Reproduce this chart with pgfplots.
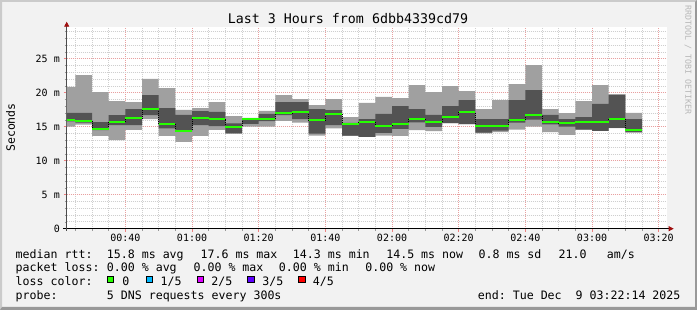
\documentclass[border=0pt]{standalone}
\usepackage{pgfplots}
\pgfplotsset{compat=1.18}
\usepackage{pgfplotstable}
\usepgfplotslibrary{fillbetween}
\usetikzlibrary{arrows.meta}
\usepackage{fontspec}
\setmainfont{DejaVu Sans Mono}
\definecolor{bgc}{HTML}{F2F2F2}
\definecolor{shadea}{HTML}{CBCBCB}
\definecolor{shadeb}{HTML}{999999}
\definecolor{smokelight}{HTML}{A0A0A0}
\definecolor{smokedark}{HTML}{535353}
\definecolor{medgreen}{HTML}{26FF00}
\definecolor{mgrid}{HTML}{E8A0A0}
\definecolor{sgrid}{HTML}{CFCFCF}
\definecolor{arrowred}{HTML}{A01010}
\definecolor{lc1}{HTML}{00B8FF}
\definecolor{lc2}{HTML}{DD00FF}
\definecolor{lc3}{HTML}{5E00FF}
\definecolor{lc4}{HTML}{FF0000}
\definecolor{wm}{HTML}{B8B8B8}

\pgfdeclarelayer{bgl}
\pgfplotsset{
  layers/mylayers/.define layer set={bgl,axis background,axis grid,axis ticks,axis lines,axis tick labels,pre main,main,axis descriptions,axis foreground}{
    grid style={/pgfplots/on layer=axis grid},
    tick style={/pgfplots/on layer=axis ticks},
    axis line style={/pgfplots/on layer=axis lines},
    label style={/pgfplots/on layer=axis descriptions},
    legend style={/pgfplots/on layer=axis descriptions},
    title style={/pgfplots/on layer=axis descriptions},
    ticklabel style={/pgfplots/on layer=axis tick labels},
    axis background@ style={/pgfplots/on layer=axis background},
  },
}

\pgfplotstableread{
t min p2 med p4 max
22.4 15.0 15.8 15.95 17.05 20.85
25 15.3 15.6 15.9 17.05 22.6
30 13.65 14.5 14.7 15.69 20.08
35 13.04 15.25 15.64 16.72 18.78
40 14.52 15.25 16.25 17.6 18.63
45 16.1 16.7 17.62 19.66 22.03
50 13.65 14.76 15.43 17.75 20.69
55 12.77 14.25 14.4 16.75 17.46
60 13.65 15.25 16.28 17.3 17.75
65 14.55 15.1 16.15 17.18 18.63
70 13.97 14.03 15.0 15.49 16.57
75 15.0 15.4 16.08 16.27 16.3
80 15.0 15.82 16.1 16.9 17.32
85 15.86 16.72 16.98 18.63 19.66
90 15.6 16.13 17.12 18.63 19.07
95 13.68 13.97 15.95 17.6 18.19
100 14.76 15.25 16.89 17.45 19.07
105 13.65 13.68 15.4 15.55 16.42
110 13.5 13.52 15.62 16.13 18.49
115 13.68 14.1 15.05 16.87 19.37
120 13.65 14.68 15.36 18.04 19.22
125 14.5 15.62 16.1 17.6 21.13
130 14.36 14.97 15.64 16.74 20.1
135 15.5 15.55 16.5 18.04 20.98
140 15.35 15.4 17.15 18.92 20.25
145 14.02 14.12 15.05 16.1 17.58
150 14.2 14.42 15.07 16.1 18.92
155 14.58 15.6 16.0 18.92 21.27
160 15.0 16.03 16.72 20.39 24.07
165 14.2 15.35 15.64 16.74 17.6
170 13.8 15.0 15.5 16.13 17.0
175 14.56 14.57 15.62 16.4 18.78
180 14.38 14.4 15.7 18.34 21.13
185 14.8 14.82 16.15 19.66 19.8
190 14.12 14.2 14.52 16.13 17.04
195 14.12 14.2 14.52 16.13 17.04
}\smoke

\begin{document}
\frenchspacing
\begin{tikzpicture}
\begin{axis}[
  set layers=mylayers,
  at={(66.7pt,81.3pt)}, anchor=south west,
  scale only axis, width=600pt, height=201.4pt,
  xmin=22.4, xmax=202.4, ymin=0, ymax=29.62,
  axis background/.style={fill=white},
  axis lines*=left,
  x axis line style={black, line width=0.8pt, shorten <=-3.4pt, shorten >=-7pt,
     -{Triangle[length=5pt,width=5pt,color=arrowred]}},
  y axis line style={black!70, line width=0.8pt, shorten <=-2pt, shorten >=-5.6pt,
     -{Triangle[length=5pt,width=5pt,color=arrowred]}},
  xtick={40,60,...,200},
  xticklabels={00:40,01:00,01:20,01:40,02:00,02:20,02:40,03:00,03:20},
  minor xtick={25,30,35,45,50,55,65,70,75,85,90,95,105,110,115,125,130,135,145,150,155,165,170,175,185,190,195},
  ytick={0,5,10,15,20,25},
  yticklabels={0,5 m,10 m,15 m,20 m,25 m},
  minor ytick={1,2,3,4,6,7,8,9,11,12,13,14,16,17,18,19,21,22,23,24,26,27,28,29},
  grid=both,
  major grid style={mgrid, line width=0.8pt, dash pattern=on 1pt off 1pt},
  minor grid style={sgrid, line width=0.8pt, dash pattern=on 1pt off 1pt},
  tick align=outside, major tick length=3pt, minor tick length=2pt,
  major tick style={mgrid!80!red, line width=0.8pt},
  minor tick style={black!40, line width=0.6pt},
  tick label style={font=\fontsize{10}{12}\selectfont, text=black},
  xticklabel style={anchor=north, inner sep=0pt, yshift=-2.3pt},
  yticklabel style={anchor=east, inner sep=0pt, xshift=-3.7pt},
  clip=true,
]
\addplot[draw=none, name path=pmin, const plot mark left, forget plot] table[x=t,y=min]{\smoke};
\addplot[draw=none, name path=ptwo, const plot mark left, forget plot] table[x=t,y=p2]{\smoke};
\addplot[draw=none, name path=pfour, const plot mark left, forget plot] table[x=t,y=p4]{\smoke};
\addplot[draw=none, name path=pmax, const plot mark left, forget plot] table[x=t,y=max]{\smoke};
\addplot[fill=smokelight, draw=none] fill between[of=pmax and pmin];
\addplot[fill=smokedark, draw=none] fill between[of=pfour and ptwo];
\addplot[const plot mark left, black, line width=0.6pt, dash pattern=on 1pt off 1pt] table[x=t,y=med]{\smoke};
\addplot[jump mark left, medgreen, line width=2pt] table[x=t,y=med]{\smoke};
\end{axis}

\begin{pgfonlayer}{bgl}
\fill[bgc] (0pt,0pt) rectangle (697pt,310pt);
\fill[shadea] (0pt,0pt) -- (0pt,310pt) -- (697pt,310pt) -- (695pt,308pt) -- (2pt,308pt) -- (2pt,3pt) -- cycle;
\fill[shadeb] (0pt,0pt) -- (697pt,0pt) -- (697pt,310pt) -- (695pt,308pt) -- (695pt,3pt) -- (2pt,3pt) -- cycle;
\end{pgfonlayer}

\node[anchor=base, font=\fontsize{13.3}{15}\selectfont] at (348pt,286pt) {Last 3 Hours from 6dbb4339cd79};
\node[rotate=90, font=\fontsize{11.5}{13}\selectfont] at (10.5pt,182.5pt) {Seconds};
\node[rotate=-90, font=\fontsize{8.3}{10}\selectfont, text=wm] at (688pt,250pt) {RRDTOOL / TOBI OETIKER};

\begin{scope}[every node/.style={anchor=base west, inner sep=0pt, font=\fontsize{11.6}{13}\selectfont}]
\node at (15.5pt,51.7pt) {median rtt:};
\node at (106.7pt,51.7pt) {15.8 ms avg};
\node at (200.4pt,51.7pt) {17.6 ms max};
\node at (292.7pt,51.7pt) {14.3 ms min};
\node at (386.1pt,51.7pt) {14.5 ms now};
\node at (478.4pt,51.7pt) {0.8 ms sd};
\node at (558.4pt,51.7pt) {21.0};
\node at (606.7pt,51.7pt) {am/s};

\node at (15.5pt,38.3pt) {packet loss:};
\node at (106.7pt,38.3pt) {0.00 \% avg};
\node at (193.4pt,38.3pt) {0.00 \% max};
\node at (278.7pt,38.3pt) {0.00 \% min};
\node at (365.1pt,38.3pt) {0.00 \% now};

\node at (15.5pt,24pt) {loss color:};
\node at (122.1pt,24pt) {0};
\node at (160.4pt,24pt) {1/5};
\node at (211.1pt,24pt) {2/5};
\node at (262.1pt,24pt) {3/5};
\node at (312.7pt,24pt) {4/5};

\node at (15.5pt,10.8pt) {probe:};
\node at (106.7pt,10.8pt) {5 DNS requests every 300s};
\node at (477.7pt,10.8pt) {end: Tue Dec\ \ 9 03:22:14 2025};
\end{scope}
\filldraw[fill=medgreen, draw=black, line width=0.8pt] (107.1pt,27.1pt) rectangle (113.7pt,33.7pt);
\filldraw[fill=lc1, draw=black, line width=0.8pt] (146.1pt,27.1pt) rectangle (152.7pt,33.7pt);
\filldraw[fill=lc2, draw=black, line width=0.8pt] (197.1pt,27.1pt) rectangle (203.7pt,33.7pt);
\filldraw[fill=lc3, draw=black, line width=0.8pt] (247.7pt,27.1pt) rectangle (254.3pt,33.7pt);
\filldraw[fill=lc4, draw=black, line width=0.8pt] (298.7pt,27.1pt) rectangle (305.3pt,33.7pt);
\end{tikzpicture}
\end{document}
